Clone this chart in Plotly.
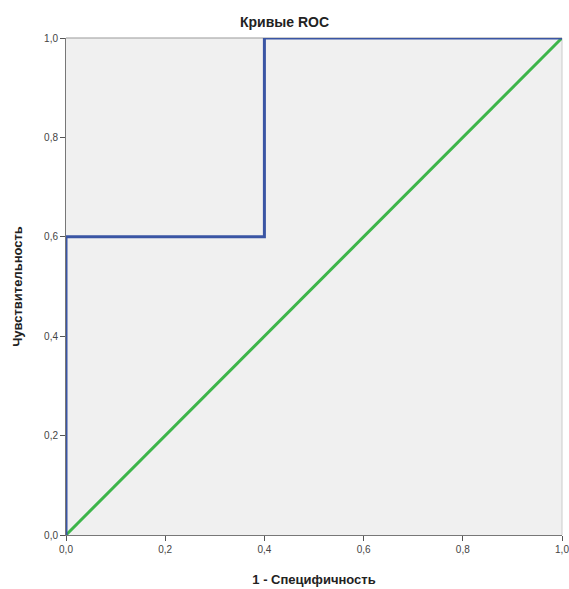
import plotly.graph_objects as go

roc_fpr = [0.0, 0.0, 0.4, 0.4, 1.0]
roc_tpr = [0.0, 0.6, 0.6, 1.0, 1.0]
ref_x = [0.0, 1.0]
ref_y = [0.0, 1.0]
tick_vals = [0.0, 0.2, 0.4, 0.6, 0.8, 1.0]
tick_text = ["0,0", "0,2", "0,4", "0,6", "0,8", "1,0"]

fig = go.Figure()
fig.add_trace(go.Scatter(x=ref_x, y=ref_y, mode="lines", cliponaxis=False,
                         line=dict(color="#3DB54A", width=3), showlegend=False))
fig.add_trace(go.Scatter(x=roc_fpr, y=roc_tpr, mode="lines", cliponaxis=False,
                         line=dict(color="#3A55A4", width=3), showlegend=False))

axis_common = dict(range=[0, 1], tickvals=tick_vals, ticktext=tick_text,
                   ticks="outside", ticklen=5, tickcolor="#555", showgrid=False,
                   zeroline=False, showline=True, linecolor="#777", linewidth=1,
                   ticklabeloverflow="allow", automargin=False,
                   tickfont=dict(family="Arial, Liberation Sans", size=10, color="#444"))

fig.update_layout(
    width=569, height=589,
    margin=dict(l=66, r=7, t=38, b=54),
    paper_bgcolor="white", plot_bgcolor="#F0F0F0",
    title=dict(text="<b>Кривые ROC</b>", x=0.5, xanchor="center", y=1 - 22/589, yanchor="middle",
               font=dict(family="Arial, Liberation Sans", size=14, color="#222")),
    xaxis=dict(**axis_common,
               title=dict(text="<b>1 - Специфичность</b>", standoff=20,
                          font=dict(family="Arial, Liberation Sans", size=13, color="#222"))),
    yaxis=dict(**axis_common,
               title=dict(text="<b>Чувствительность</b>", standoff=18,
                          font=dict(family="Arial, Liberation Sans", size=13, color="#222"))),
)
fig.add_shape(type="line", xref="paper", yref="paper", x0=0, x1=1, y0=1, y1=1,
              line=dict(color="#999", width=1), layer="below")
fig.add_shape(type="line", xref="paper", yref="paper", x0=1, x1=1, y0=0, y1=1,
              line=dict(color="#ccc", width=1), layer="below")
fig.write_html("out.html", config={"displayModeBar": False},
               post_script="document.body.style.margin='0';document.body.style.overflow='hidden';")
